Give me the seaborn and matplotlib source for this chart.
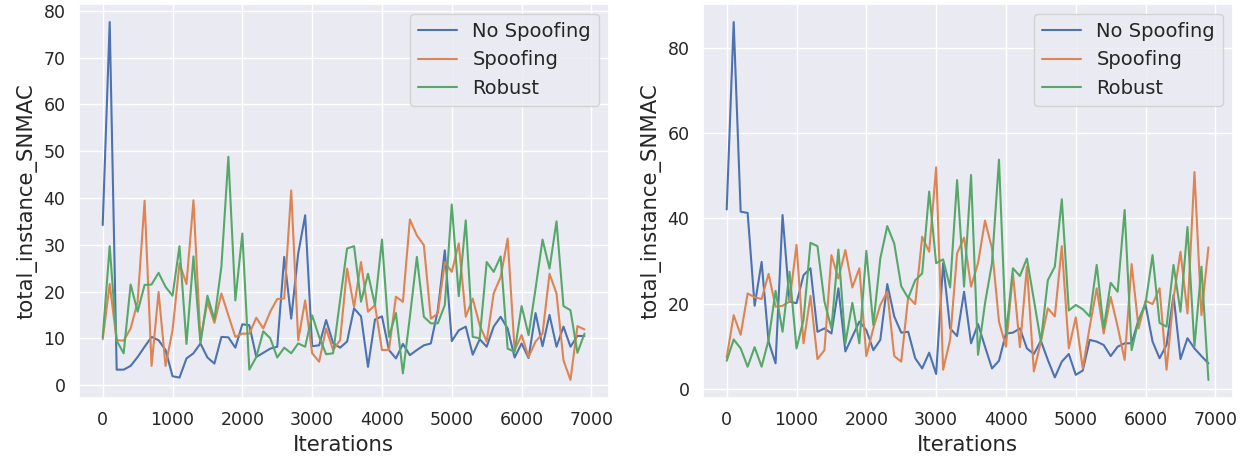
import numpy as np
import pandas as pd
import matplotlib
matplotlib.use("Agg")
import matplotlib.pyplot as plt
import seaborn as sns

iterations = list(range(0, 7000, 100))
series_names = ["No Spoofing", "Spoofing", "Robust"]

left_no_spoofing = [34.2, 77.6, 3.3, 3.3, 4.1, 6.0, 8.2, 10.3, 9.6, 7.5,
                    1.9, 1.6, 5.7, 6.8, 8.9, 5.9, 4.6, 10.3, 10.2, 8.0,
                    13.0, 12.8, 6.0, 6.9, 7.8, 8.2, 27.4, 14.2, 28.1, 36.3,
                    8.3, 8.5, 13.9, 9.0, 8.0, 9.3, 16.4, 14.7, 3.9, 14.0,
                    14.7, 7.5, 5.7, 8.8, 6.4, 7.5, 8.5, 8.9, 16.0, 28.8,
                    9.4, 11.7, 12.5, 6.5, 9.8, 8.2, 12.5, 14.6, 12.1, 5.9,
                    8.9, 5.8, 15.4, 8.3, 15.0, 8.2, 12.5, 8.2, 10.5, 10.5]
left_spoofing = [9.8, 21.6, 9.6, 9.5, 12.1, 17.8, 39.4, 4.1, 19.9, 4.1,
                 11.7, 26.0, 21.6, 39.5, 9.6, 17.8, 13.3, 19.6, 14.9, 10.3,
                 11.0, 11.0, 14.4, 12.1, 15.7, 18.4, 18.5, 41.6, 9.6, 18.1,
                 6.8, 5.0, 12.1, 7.5, 9.6, 24.9, 16.7, 26.3, 15.7, 17.1,
                 7.5, 7.5, 18.9, 17.8, 35.4, 32.0, 29.9, 14.2, 15.3, 26.3,
                 24.2, 30.3, 14.6, 18.5, 12.8, 9.3, 19.6, 23.1, 31.3, 7.5,
                 10.7, 6.0, 9.3, 11.0, 23.8, 19.6, 5.3, 1.1, 12.6, 11.9]
left_robust = [10.2, 29.7, 9.5, 6.8, 21.5, 15.7, 21.4, 21.5, 24.0, 21.0,
               19.1, 29.7, 8.8, 27.5, 8.9, 19.1, 14.0, 25.3, 48.8, 18.1,
               32.4, 3.3, 6.0, 11.5, 10.0, 5.9, 8.0, 6.8, 8.9, 8.2,
               14.9, 10.3, 6.6, 6.8, 18.1, 29.2, 29.7, 17.8, 23.8, 17.1,
               31.1, 10.3, 15.4, 2.5, 14.6, 27.4, 14.6, 13.2, 13.2, 17.1,
               38.6, 19.0, 35.2, 10.3, 10.0, 26.3, 24.2, 27.5, 7.8, 7.1,
               16.9, 10.7, 20.6, 31.1, 24.9, 35.0, 16.9, 16.0, 6.9, 11.0]

right_no_spoofing = [42.1, 86.1, 41.6, 41.3, 19.5, 29.8, 11.1, 6.0, 40.8, 20.5,
                     20.1, 26.7, 28.3, 13.4, 14.2, 13.0, 23.6, 8.8, 12.3, 15.8,
                     13.8, 9.1, 11.5, 24.6, 17.0, 13.2, 13.4, 7.2, 4.8, 8.5,
                     3.5, 29.5, 14.2, 12.4, 22.8, 10.7, 15.2, 9.9, 4.8, 6.6,
                     13.0, 13.2, 14.2, 9.5, 8.2, 11.3, 6.8, 2.7, 6.4, 8.2,
                     3.3, 4.3, 11.5, 11.1, 10.3, 7.7, 9.9, 10.7, 10.7, 16.2,
                     19.7, 11.1, 7.2, 10.3, 22.0, 7.0, 11.9, 9.5, 7.7, 6.0]
right_spoofing = [7.4, 17.3, 12.7, 22.4, 21.5, 21.1, 27.0, 19.3, 19.5, 20.5,
                  33.8, 10.7, 21.8, 7.0, 9.1, 31.4, 25.9, 32.6, 23.8, 28.3,
                  7.7, 14.2, 19.7, 22.8, 7.7, 6.4, 21.6, 19.9, 35.7, 32.2,
                  52.0, 4.5, 11.5, 31.8, 35.5, 24.0, 29.5, 39.5, 33.0, 15.8,
                  9.9, 27.1, 9.8, 28.7, 4.1, 11.1, 18.9, 17.0, 33.5, 9.5,
                  16.8, 4.8, 14.6, 23.6, 13.0, 21.6, 14.6, 6.8, 29.3, 14.2,
                  20.7, 19.9, 23.6, 4.5, 21.3, 32.2, 17.7, 50.9, 17.3, 33.2]
right_robust = [6.6, 11.6, 9.5, 5.2, 9.8, 5.2, 11.5, 23.0, 13.4, 27.5,
                9.5, 16.2, 34.3, 33.5, 20.5, 14.2, 32.7, 10.7, 20.2, 10.7,
                32.4, 15.0, 30.6, 38.2, 34.1, 24.1, 21.3, 25.5, 27.1, 46.3,
                29.5, 30.4, 23.8, 49.0, 24.0, 50.2, 8.0, 20.1, 29.5, 53.8,
                12.7, 28.3, 26.5, 30.6, 20.9, 11.1, 25.5, 28.7, 44.5, 18.4,
                19.7, 18.7, 17.0, 29.1, 14.2, 24.9, 22.8, 42.0, 9.1, 16.2,
                20.1, 31.4, 15.5, 14.6, 29.1, 18.1, 38.0, 9.9, 28.7, 2.1]


def to_long(a, b, c):
    frames = []
    for name, vals in zip(series_names, (a, b, c)):
        frames.append(pd.DataFrame({"Iterations": iterations,
                                    "total_instance_SNMAC": vals,
                                    "series": name}))
    return pd.concat(frames, ignore_index=True)


left_df = to_long(left_no_spoofing, left_spoofing, left_robust)
right_df = to_long(right_no_spoofing, right_spoofing, right_robust)

sns.set_theme(style="darkgrid")
plt.rcParams["font.family"] = ["DejaVu Sans"]

fig, axes = plt.subplots(1, 2, figsize=(12.5, 4.61), dpi=100)
fig.subplots_adjust(left=0.0629, right=0.986, bottom=0.137, top=0.991, wspace=0.1776)

palette = sns.color_palette("deep", 3)
for ax, df in zip(axes, (left_df, right_df)):
    sns.lineplot(data=df, x="Iterations", y="total_instance_SNMAC", hue="series",
                 hue_order=series_names, palette=palette, ax=ax, linewidth=1.5)
    ax.set_xlabel("Iterations", fontsize=15.3)
    ax.set_ylabel("total_instance_SNMAC", fontsize=15.3)
    ax.tick_params(axis="both", labelsize=12.5)
    ax.set_xticks([0, 1000, 2000, 3000, 4000, 5000, 6000, 7000])
    ax.legend(title=None, loc="upper right", fontsize=14)

axes[0].set_yticks([0, 10, 20, 30, 40, 50, 60, 70, 80])
axes[1].set_yticks([0, 20, 40, 60, 80])

fig.savefig("out.png", dpi=100)
